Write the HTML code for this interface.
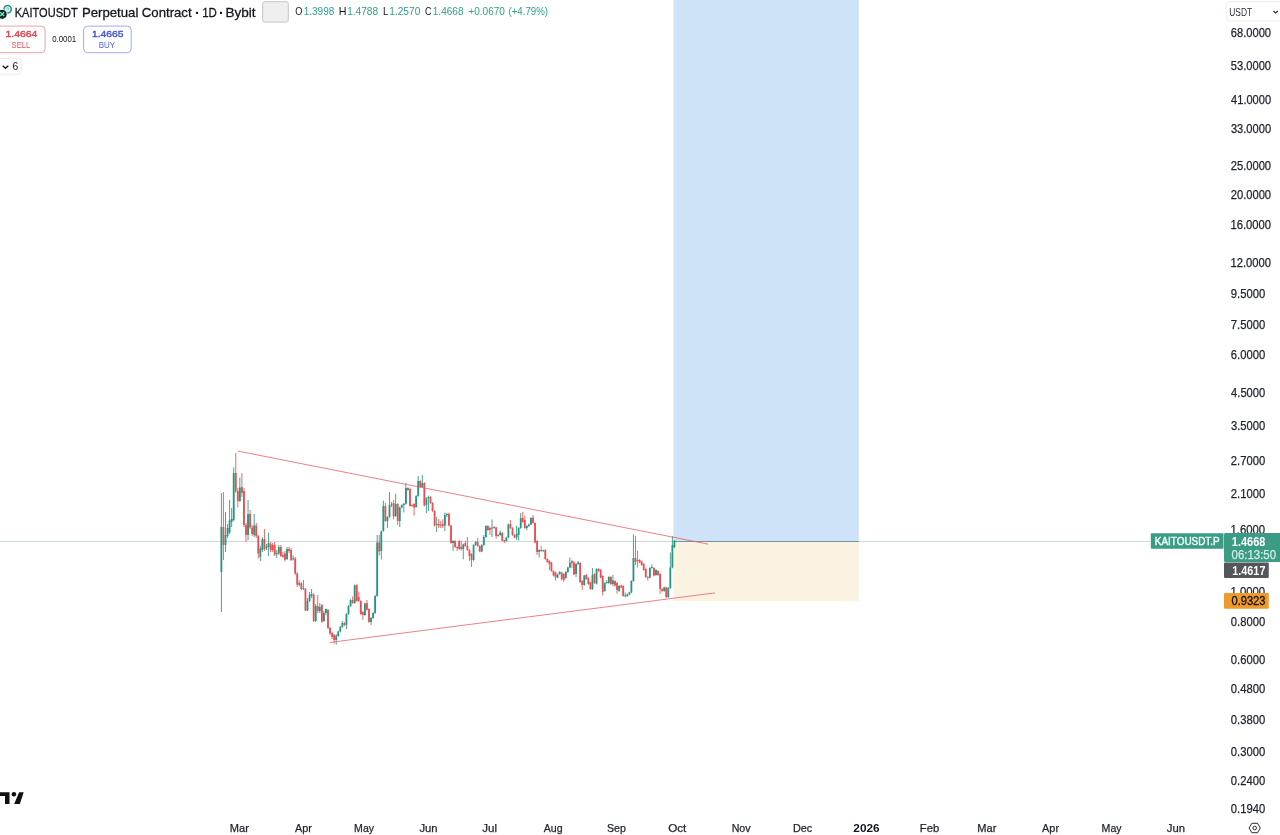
<!DOCTYPE html>
<html><head><meta charset="utf-8"><title>KAITOUSDT Perpetual Contract</title>
<style>
html,body{margin:0;padding:0;background:#fff;}
body{width:1280px;height:835px;position:relative;overflow:hidden;}
svg{position:absolute;left:0;top:0;display:block;font-family:"Liberation Sans",sans-serif;}
</style></head><body>
<svg width="1280" height="835" viewBox="0 0 1280 835">
<rect x="673.4" y="0" width="185.4" height="541.2" fill="#cfe3f8"/>
<rect x="673.4" y="541.2" width="185.4" height="60" fill="#fbf3e2"/>
<line x1="0" y1="541.4" x2="1150" y2="541.4" stroke="#c9d9d5" stroke-width="1"/>
<line x1="673.4" y1="541.5" x2="858.8" y2="541.5" stroke="#7593a6" stroke-width="1.2"/>
<path d="M223.45 492.0V560.0M235.75 453.0V493.0M237.80 488.0V507.5M241.90 473.0V497.0M243.95 488.0V527.0M246.00 523.0V542.0M250.10 510.0V529.0M252.15 525.0V536.0M256.25 523.0V538.0M258.30 535.0V558.5M264.45 529.0V551.0M270.60 542.0V552.0M272.65 543.0V552.0M274.70 542.0V556.0M280.85 545.0V557.0M282.90 552.0V558.0M284.95 551.0V561.6M289.05 547.0V553.0M291.10 548.0V561.0M295.20 557.0V575.0M297.25 572.0V587.0M301.35 582.0V590.0M305.45 588.0V611.0M313.65 593.0V622.0M317.75 595.0V613.0M321.85 604.0V623.0M328.00 609.0V629.0M330.05 627.0V635.0M332.10 632.0V639.0M334.15 634.0V643.5M344.40 622.0V626.0M352.60 596.6V603.8M356.70 584.2V601.8M358.75 591.6V601.8M360.80 600.2V614.8M362.85 611.2V619.8M366.95 600.0V610.5M369.00 608.2V622.8M379.25 535.0V555.6M385.40 503.0V521.8M393.60 500.0V519.4M397.70 503.2V525.0M407.95 487.2V490.8M410.00 488.2V506.8M412.05 504.2V506.8M414.10 503.2V515.6M420.25 480.2V487.8M424.35 482.2V506.4M430.50 496.2V503.8M432.55 502.2V511.8M434.60 510.2V526.4M438.70 519.0V528.0M440.75 521.0V528.0M442.80 519.4V528.0M448.95 512.5V526.4M451.00 524.8V543.8M455.10 540.2V547.8M457.15 546.2V551.0M459.20 540.0V549.8M461.25 540.6V550.6M465.35 541.0V546.8M467.40 537.0V550.8M469.45 549.2V561.0M471.50 553.2V567.0M477.65 538.0V546.8M479.70 545.2V552.3M487.90 525.2V530.8M489.95 527.2V535.0M494.05 526.2V528.8M496.10 526.7V538.8M502.25 532.2V541.4M504.30 539.8V543.0M510.45 520.0V528.8M512.50 527.2V535.8M514.55 534.2V538.3M522.75 512.0V522.8M524.80 515.6V528.8M533.00 515.0V523.8M535.05 522.2V543.3M537.10 540.2V555.0M541.20 546.0V551.8M545.30 549.2V559.8M547.35 558.2V562.8M549.40 560.2V570.0M551.45 561.9V571.8M553.50 570.2V576.4M555.55 571.7V580.6M561.70 571.7V580.6M563.75 573.2V582.0M571.95 560.2V568.0M574.00 561.0V575.2M580.15 562.2V582.8M582.20 580.2V590.0M586.30 573.8V579.8M588.35 577.2V584.8M590.40 581.7V589.8M594.50 573.2V583.8M598.60 568.2V571.8M600.65 569.2V578.3M602.70 575.2V595.6M610.90 576.2V584.8M615.00 580.2V586.4M617.05 582.2V593.8M621.15 584.8V588.3M623.20 585.2V596.8M635.50 536.0V565.0M637.55 550.6V567.5M639.60 559.2V563.3M641.65 560.7V565.8M643.70 563.2V570.8M645.75 568.2V577.8M647.80 576.2V580.6M653.95 567.2V576.4M658.05 570.2V575.8M660.10 573.2V593.8M662.15 588.2V591.8M666.25 586.7V598.0" stroke="#e94f52" stroke-width="0.85" fill="none"/>
<path d="M221.40 493.0V612.0M225.50 512.0V552.0M227.55 524.0V538.0M229.60 500.0V534.0M231.65 508.0V527.0M233.70 467.5V521.0M239.85 477.5V502.0M248.05 500.0V540.0M254.20 514.0V537.0M260.35 546.0V561.0M262.40 537.0V552.0M266.50 544.0V550.0M268.55 532.5V556.0M276.75 550.0V558.0M278.80 545.0V555.0M287.00 547.0V560.0M293.15 555.4V560.4M299.30 580.4V586.0M303.40 580.0V590.0M307.50 598.0V611.0M309.55 592.0V602.0M311.60 589.0V598.0M315.70 604.0V622.0M319.80 603.0V613.0M323.90 611.0V622.0M325.95 608.5V615.0M336.20 634.0V644.8M338.25 630.8V636.8M340.30 626.2V632.4M342.35 621.0V627.8M346.45 613.2V629.0M348.50 605.2V614.8M350.55 599.2V606.8M354.65 584.5V603.8M364.90 602.7V615.8M371.05 617.2V625.0M373.10 612.2V618.8M375.15 595.2V613.8M377.20 535.0V596.8M381.30 530.7V559.4M383.35 500.6V531.8M387.45 516.2V528.0M389.50 492.0V517.8M391.55 502.0V507.0M395.65 493.8V516.8M399.75 506.7V527.0M401.80 504.2V508.3M403.85 502.9V512.5M405.90 483.0V504.6M416.15 495.2V507.8M418.20 476.0V496.8M422.30 475.0V487.8M426.40 497.2V513.0M428.45 495.6V511.0M436.65 517.0V532.0M444.85 512.5V531.0M446.90 513.0V517.0M453.05 540.2V551.0M463.30 543.6V559.4M473.55 544.2V560.8M475.60 541.2V545.8M481.75 544.2V552.3M483.80 535.0V545.8M485.85 525.2V537.8M492.00 519.4V537.0M498.15 534.2V536.8M500.20 530.6V535.8M506.35 536.7V541.8M508.40 523.6V538.3M516.60 525.6V540.0M518.65 527.2V540.6M520.70 513.0V528.8M526.85 525.2V530.0M528.90 523.6V526.8M530.95 517.2V525.2M539.15 549.2V557.5M543.25 549.7V551.8M557.60 573.6V578.3M559.65 571.2V574.8M565.80 571.1V578.8M567.85 566.7V572.8M569.90 557.5V568.3M576.05 563.2V577.0M578.10 561.0V564.8M584.25 574.8V585.8M592.45 568.0V589.8M596.55 568.2V584.5M604.75 582.2V591.8M606.80 580.0V583.8M608.85 576.2V583.8M612.95 575.0V586.0M619.10 585.2V591.8M625.25 592.5V597.3M627.30 593.6V596.8M629.35 591.7V595.2M631.40 580.2V593.3M633.45 534.4V581.8M649.85 567.2V578.3M651.90 564.4V568.8M656.00 569.2V575.8M664.20 586.7V591.8M668.30 587.2V597.8M670.35 552.5V588.8M672.40 536.0V568.3M674.45 540.0V548.3" stroke="#26967f" stroke-width="0.85" fill="none"/>
<path d="M223.45 527.0V545.0M235.75 473.0V491.0M237.80 491.0V501.0M241.90 487.0V493.0M243.95 491.0V525.0M246.00 525.0V535.0M250.10 514.0V527.5M252.15 527.5V534.0M256.25 525.6V536.0M258.30 536.0V553.5M264.45 539.0V549.0M270.60 544.0V550.0M272.65 545.0V550.0M274.70 545.0V554.8M280.85 547.0V556.0M282.90 555.0V556.6M284.95 553.5V559.8M289.05 549.0V551.0M291.10 550.0V560.0M295.20 558.5V573.5M297.25 573.5V584.8M301.35 583.5V589.0M305.45 589.0V610.4M313.65 594.8V621.0M317.75 606.0V611.0M321.85 605.0V621.6M328.00 610.0V628.0M330.05 628.0V633.5M332.10 633.0V637.0M334.15 635.0V640.0M344.40 623.0V625.0M352.60 600.0V603.0M356.70 585.0V601.0M358.75 597.0V601.0M360.80 601.0V614.0M362.85 612.0V615.0M366.95 603.0V609.8M369.00 609.0V622.0M379.25 542.5V551.5M385.40 506.0V521.0M393.60 503.0V516.5M397.70 504.0V521.0M407.95 488.0V490.0M410.00 489.0V506.0M412.05 505.0V506.0M414.10 504.0V507.5M420.25 481.0V487.0M424.35 483.0V505.6M430.50 497.0V503.0M432.55 503.0V511.0M434.60 511.0V525.6M438.70 524.0V525.6M440.75 524.6V525.6M442.80 524.0V526.0M448.95 514.0V525.6M451.00 525.6V543.0M455.10 541.0V547.0M457.15 547.0V548.0M459.20 541.0V549.0M461.25 547.0V549.0M465.35 543.0V546.0M467.40 546.0V550.0M469.45 550.0V556.0M471.50 554.0V560.0M477.65 542.0V546.0M479.70 546.0V551.5M487.90 526.0V530.0M489.95 528.0V530.0M494.05 527.0V528.0M496.10 527.5V536.0M502.25 533.0V540.6M504.30 540.3V541.3M510.45 524.0V528.0M512.50 528.0V535.0M514.55 535.0V537.5M522.75 518.0V522.0M524.80 520.0V528.0M533.00 517.5V523.0M535.05 523.0V542.5M537.10 541.0V552.0M541.20 550.0V551.0M545.30 550.0V559.0M547.35 559.0V562.0M549.40 561.0V564.0M551.45 562.5V571.0M553.50 571.0V575.6M555.55 572.5V577.5M561.70 572.5V579.0M563.75 574.0V580.0M571.95 561.0V563.0M574.00 562.5V574.4M580.15 563.0V582.0M582.20 581.0V585.0M586.30 575.0V579.0M588.35 578.0V584.0M590.40 582.5V589.0M594.50 574.0V583.0M598.60 569.0V571.0M600.65 570.0V577.5M602.70 576.0V592.0M610.90 577.0V584.0M615.00 581.0V585.6M617.05 583.0V590.0M621.15 585.6V587.5M623.20 586.0V596.0M635.50 558.0V562.0M637.55 560.0V561.0M639.60 560.0V562.5M641.65 561.5V565.0M643.70 564.0V570.0M645.75 569.0V577.0M647.80 577.0V578.0M653.95 568.0V575.6M658.05 571.0V575.0M660.10 574.0V589.0M662.15 589.0V591.0M666.25 587.5V597.0" stroke="#e94f52" stroke-width="1.8" fill="none"/>
<path d="M221.40 527.0V572.0M225.50 535.0V545.0M227.55 528.0V536.0M229.60 520.6V532.5M231.65 519.0V522.0M233.70 473.0V520.0M239.85 487.5V501.0M248.05 514.0V535.0M254.20 525.6V535.0M260.35 548.5V557.0M262.40 539.0V550.0M266.50 546.5V548.0M268.55 543.0V547.0M276.75 553.0V554.0M278.80 547.0V553.5M287.00 549.0V559.0M293.15 558.2V559.2M299.30 583.0V584.8M303.40 588.0V589.0M307.50 601.0V610.4M309.55 594.8V601.0M311.60 594.0V596.0M315.70 606.0V621.0M319.80 607.0V611.0M323.90 613.0V621.0M325.95 609.0V613.0M336.20 636.0V640.0M338.25 631.6V636.0M340.30 627.0V631.6M342.35 623.0V627.0M346.45 614.0V625.0M348.50 606.0V614.0M350.55 600.0V606.0M354.65 585.6V603.0M364.90 603.5V615.0M371.05 618.0V622.0M373.10 613.0V618.0M375.15 596.0V613.0M377.20 542.5V596.0M381.30 531.5V551.0M383.35 506.0V531.0M387.45 517.0V521.0M389.50 505.0V517.0M391.55 504.2V505.2M395.65 504.0V516.0M399.75 507.5V521.0M401.80 505.0V507.5M403.85 503.8V505.0M405.90 488.0V503.8M416.15 496.0V507.0M418.20 481.0V496.0M422.30 483.0V487.0M426.40 498.0V505.0M428.45 497.0V498.0M436.65 524.0V525.0M444.85 515.0V525.6M446.90 514.0V515.0M453.05 541.0V543.0M463.30 544.4V549.0M473.55 545.0V560.0M475.60 542.0V545.0M481.75 545.0V551.5M483.80 537.0V545.0M485.85 526.0V537.0M492.00 527.6V528.6M498.15 535.0V536.0M500.20 532.5V535.0M506.35 537.5V541.0M508.40 524.4V537.5M516.60 534.0V537.5M518.65 528.0V535.0M520.70 518.0V528.0M526.85 526.0V528.0M528.90 524.4V526.0M530.95 518.0V524.4M539.15 550.0V552.0M543.25 550.2V551.2M557.60 574.4V577.5M559.65 572.0V574.0M565.80 571.9V578.0M567.85 567.5V572.0M569.90 562.5V567.5M576.05 564.0V574.0M578.10 562.5V564.0M584.25 575.6V585.0M592.45 575.0V589.0M596.55 569.0V583.8M604.75 583.0V591.0M606.80 582.0V583.0M608.85 577.0V583.0M612.95 580.6V584.0M619.10 586.0V591.0M625.25 595.5V596.5M627.30 594.4V596.0M629.35 592.5V594.4M631.40 581.0V592.5M633.45 558.0V581.0M649.85 568.0V577.5M651.90 567.0V568.0M656.00 570.0V575.0M664.20 587.5V591.0M668.30 588.0V597.0M670.35 567.5V588.0M672.40 545.0V567.5M674.45 541.1V547.3" stroke="#26967f" stroke-width="1.8" fill="none"/>
<line x1="238" y1="451.1" x2="708" y2="544.1" stroke="#e6606d" stroke-width="0.8"/>
<line x1="329.5" y1="642.5" x2="715" y2="592.9" stroke="#e6606d" stroke-width="0.8"/>
<!-- symbol logo -->
<circle cx="7.6" cy="9.2" r="3.7" fill="#c9f3ed" stroke="#2f9283" stroke-width="1.6"/>
<path d="M6.4 8.4 Q7.6 7 8.8 8.4 Q8.4 9.6 7.5 10.4" stroke="#6fb9ad" stroke-width="0.8" fill="none"/>
<circle cx="2.2" cy="14.3" r="5" fill="#0b2a2a" stroke="#fff" stroke-width="0.9"/>
<path d="M0.2 12.3 L4.2 16 M4.2 12.3 L0.2 16" stroke="#7fe3cb" stroke-width="1.3" fill="none"/>
<!-- box -->
<rect x="262.7" y="1.7" width="25.6" height="20.4" rx="2" fill="#efeff0" stroke="#c6c6c9" stroke-width="1"/>
<!-- buttons -->
<rect x="-6" y="26.1" width="51.1" height="26.6" rx="4" fill="#fff" stroke="#f0a3a9" stroke-width="1"/>
<rect x="83.6" y="26.1" width="47.6" height="26.6" rx="4" fill="#fff" stroke="#a3abf0" stroke-width="1"/>
<rect x="-6" y="58.4" width="27.2" height="15.8" rx="2.5" fill="#fff" stroke="#e9e9ea" stroke-width="1"/>
<path d="M2.7 65.7 L5.5 68.3 L8.3 65.7" stroke="#131722" stroke-width="1.3" fill="none"/>
<!-- usdt -->
<rect x="1226.5" y="1.5" width="60" height="19.5" rx="3" fill="#fff" stroke="#efeff0" stroke-width="1"/>
<path d="M1273.4 11 L1275.6 12.9 L1277.8 11" stroke="#2a2e39" stroke-width="1.2" fill="none"/>
<text x="1230.74" y="37.27" font-size="12" fill="#1e222d" textLength="40.35" lengthAdjust="spacingAndGlyphs" stroke="#1e222d" stroke-width="0.25">68.0000</text>
<text x="1230.85" y="70.27" font-size="12" fill="#1e222d" textLength="40.23" lengthAdjust="spacingAndGlyphs" stroke="#1e222d" stroke-width="0.25">53.0000</text>
<text x="1231.08" y="104.27" font-size="12" fill="#1e222d" textLength="40.01" lengthAdjust="spacingAndGlyphs" stroke="#1e222d" stroke-width="0.25">41.0000</text>
<text x="1230.91" y="133.02" font-size="12" fill="#1e222d" textLength="40.18" lengthAdjust="spacingAndGlyphs" stroke="#1e222d" stroke-width="0.25">33.0000</text>
<text x="1230.74" y="169.79" font-size="12" fill="#1e222d" textLength="40.35" lengthAdjust="spacingAndGlyphs" stroke="#1e222d" stroke-width="0.25">25.0000</text>
<text x="1230.74" y="199.35" font-size="12" fill="#1e222d" textLength="40.35" lengthAdjust="spacingAndGlyphs" stroke="#1e222d" stroke-width="0.25">20.0000</text>
<text x="1230.46" y="228.90" font-size="12" fill="#1e222d" textLength="40.63" lengthAdjust="spacingAndGlyphs" stroke="#1e222d" stroke-width="0.25">16.0000</text>
<text x="1230.46" y="267.00" font-size="12" fill="#1e222d" textLength="40.63" lengthAdjust="spacingAndGlyphs" stroke="#1e222d" stroke-width="0.25">12.0000</text>
<text x="1230.79" y="297.94" font-size="12" fill="#1e222d" textLength="34.38" lengthAdjust="spacingAndGlyphs" stroke="#1e222d" stroke-width="0.25">9.5000</text>
<text x="1230.74" y="329.25" font-size="12" fill="#1e222d" textLength="34.44" lengthAdjust="spacingAndGlyphs" stroke="#1e222d" stroke-width="0.25">7.5000</text>
<text x="1230.74" y="358.80" font-size="12" fill="#1e222d" textLength="34.44" lengthAdjust="spacingAndGlyphs" stroke="#1e222d" stroke-width="0.25">6.0000</text>
<text x="1231.08" y="396.90" font-size="12" fill="#1e222d" textLength="34.10" lengthAdjust="spacingAndGlyphs" stroke="#1e222d" stroke-width="0.25">4.5000</text>
<text x="1230.91" y="430.18" font-size="12" fill="#1e222d" textLength="34.27" lengthAdjust="spacingAndGlyphs" stroke="#1e222d" stroke-width="0.25">3.5000</text>
<text x="1230.74" y="464.55" font-size="12" fill="#1e222d" textLength="34.44" lengthAdjust="spacingAndGlyphs" stroke="#1e222d" stroke-width="0.25">2.7000</text>
<text x="1230.74" y="497.84" font-size="12" fill="#1e222d" textLength="34.44" lengthAdjust="spacingAndGlyphs" stroke="#1e222d" stroke-width="0.25">2.1000</text>
<text x="1230.45" y="533.85" font-size="12" fill="#1e222d" textLength="34.73" lengthAdjust="spacingAndGlyphs" stroke="#1e222d" stroke-width="0.25">1.6000</text>
<text x="1230.45" y="596.10" font-size="12" fill="#1e222d" textLength="34.73" lengthAdjust="spacingAndGlyphs" stroke="#1e222d" stroke-width="0.25">1.0000</text>
<text x="1230.85" y="625.65" font-size="12" fill="#1e222d" textLength="34.33" lengthAdjust="spacingAndGlyphs" stroke="#1e222d" stroke-width="0.25">0.8000</text>
<text x="1230.85" y="663.75" font-size="12" fill="#1e222d" textLength="34.33" lengthAdjust="spacingAndGlyphs" stroke="#1e222d" stroke-width="0.25">0.6000</text>
<text x="1230.85" y="693.31" font-size="12" fill="#1e222d" textLength="34.33" lengthAdjust="spacingAndGlyphs" stroke="#1e222d" stroke-width="0.25">0.4800</text>
<text x="1230.85" y="724.25" font-size="12" fill="#1e222d" textLength="34.33" lengthAdjust="spacingAndGlyphs" stroke="#1e222d" stroke-width="0.25">0.3800</text>
<text x="1230.85" y="755.55" font-size="12" fill="#1e222d" textLength="34.33" lengthAdjust="spacingAndGlyphs" stroke="#1e222d" stroke-width="0.25">0.3000</text>
<text x="1230.85" y="785.11" font-size="12" fill="#1e222d" textLength="34.33" lengthAdjust="spacingAndGlyphs" stroke="#1e222d" stroke-width="0.25">0.2400</text>
<text x="1230.85" y="813.29" font-size="12" fill="#1e222d" textLength="34.33" lengthAdjust="spacingAndGlyphs" stroke="#1e222d" stroke-width="0.25">0.1940</text>
<!-- right labels -->
<rect x="1150.8" y="533.2" width="72.7" height="15.6" rx="1" fill="#3c9b85"/>
<path d="M1225.5 533.1H1281V561.9H1225.5Q1224 561.9 1224 560.4V534.6Q1224 533.1 1225.5 533.1Z" fill="#3c9b85"/>
<rect x="1224" y="562.6" width="44.75" height="15.3" rx="1" fill="#55565a"/>
<rect x="1224" y="593.1" width="44.75" height="15.7" rx="1" fill="#f19a2c"/>
<!-- TV logo -->
<path d="M0 792.2H9.5V803.9H5V796H0Z" fill="#111"/>
<circle cx="13.9" cy="794.2" r="2.3" fill="#111"/>
<path d="M19.1 792.2H23.7L19.8 803.9H14.2Z" fill="#111"/>
<!-- settings icon -->
<path d="M1251.9 823.3 L1257.5 823.3 L1260.3 828 L1257.5 832.7 L1251.9 832.7 L1249.1 828 Z" fill="none" stroke="#2a2e39" stroke-width="1" stroke-linejoin="round"/>
<circle cx="1254.7" cy="828" r="1.8" fill="none" stroke="#2a2e39" stroke-width="1"/>
<text x="229.76" y="831.50" font-size="11" fill="#1e222d" textLength="19.12" lengthAdjust="spacingAndGlyphs" stroke="#1e222d" stroke-width="0.25">Mar</text>
<text x="295.00" y="831.50" font-size="11" fill="#1e222d" textLength="16.92" lengthAdjust="spacingAndGlyphs" stroke="#1e222d" stroke-width="0.25">Apr</text>
<text x="354.11" y="831.50" font-size="11" fill="#1e222d" textLength="19.94" lengthAdjust="spacingAndGlyphs" stroke="#1e222d" stroke-width="0.25">May</text>
<text x="419.43" y="831.50" font-size="11" fill="#1e222d" textLength="18.17" lengthAdjust="spacingAndGlyphs" stroke="#1e222d" stroke-width="0.25">Jun</text>
<text x="482.35" y="831.50" font-size="11" fill="#1e222d" textLength="14.71" lengthAdjust="spacingAndGlyphs" stroke="#1e222d" stroke-width="0.25">Jul</text>
<text x="543.77" y="831.50" font-size="11" fill="#1e222d" textLength="18.88" lengthAdjust="spacingAndGlyphs" stroke="#1e222d" stroke-width="0.25">Aug</text>
<text x="607.02" y="831.50" font-size="11" fill="#1e222d" textLength="18.90" lengthAdjust="spacingAndGlyphs" stroke="#1e222d" stroke-width="0.25">Sep</text>
<text x="668.23" y="831.50" font-size="11" fill="#1e222d" textLength="18.09" lengthAdjust="spacingAndGlyphs" stroke="#1e222d" stroke-width="0.25">Oct</text>
<text x="731.65" y="831.50" font-size="11" fill="#1e222d" textLength="18.89" lengthAdjust="spacingAndGlyphs" stroke="#1e222d" stroke-width="0.25">Nov</text>
<text x="792.90" y="831.50" font-size="11" fill="#1e222d" textLength="19.38" lengthAdjust="spacingAndGlyphs" stroke="#1e222d" stroke-width="0.25">Dec</text>
<text x="853.34" y="831.50" font-size="11" fill="#131722" font-weight="bold" textLength="26.32" lengthAdjust="spacingAndGlyphs">2026</text>
<text x="919.85" y="831.50" font-size="11" fill="#1e222d" textLength="19.39" lengthAdjust="spacingAndGlyphs" stroke="#1e222d" stroke-width="0.25">Feb</text>
<text x="977.31" y="831.50" font-size="11" fill="#1e222d" textLength="19.12" lengthAdjust="spacingAndGlyphs" stroke="#1e222d" stroke-width="0.25">Mar</text>
<text x="1042.10" y="831.50" font-size="11" fill="#1e222d" textLength="16.92" lengthAdjust="spacingAndGlyphs" stroke="#1e222d" stroke-width="0.25">Apr</text>
<text x="1101.61" y="831.50" font-size="11" fill="#1e222d" textLength="19.94" lengthAdjust="spacingAndGlyphs" stroke="#1e222d" stroke-width="0.25">May</text>
<text x="1166.88" y="831.50" font-size="11" fill="#1e222d" textLength="18.17" lengthAdjust="spacingAndGlyphs" stroke="#1e222d" stroke-width="0.25">Jun</text>
<text x="14.72" y="16.90" font-size="13.3" fill="#131722" textLength="63.00" lengthAdjust="spacingAndGlyphs" stroke="#131722" stroke-width="0.3">KAITOUSDT</text>
<text x="81.95" y="16.90" font-size="13.3" fill="#131722" textLength="56.42" lengthAdjust="spacingAndGlyphs" stroke="#131722" stroke-width="0.3">Perpetual</text>
<text x="141.84" y="16.90" font-size="13.3" fill="#131722" textLength="49.78" lengthAdjust="spacingAndGlyphs" stroke="#131722" stroke-width="0.3">Contract</text>
<text x="202.14" y="16.90" font-size="13.3" fill="#131722" textLength="14.67" lengthAdjust="spacingAndGlyphs" stroke="#131722" stroke-width="0.3">1D</text>
<text x="225.42" y="16.90" font-size="13.3" fill="#131722" textLength="30.09" lengthAdjust="spacingAndGlyphs" stroke="#131722" stroke-width="0.3">Bybit</text>
<text x="194.90" y="17.60" font-size="14" fill="#131722" font-weight="bold" textLength="4.76" lengthAdjust="spacingAndGlyphs">·</text>
<text x="218.90" y="17.60" font-size="14" fill="#131722" font-weight="bold" textLength="4.76" lengthAdjust="spacingAndGlyphs">·</text>
<text x="295.19" y="15.40" font-size="10.5" fill="#131722" textLength="7.15" lengthAdjust="spacingAndGlyphs">O</text>
<text x="303.65" y="15.40" font-size="10.5" fill="#2f9e8c" textLength="30.74" lengthAdjust="spacingAndGlyphs">1.3998</text>
<text x="338.74" y="15.40" font-size="10.5" fill="#131722" textLength="7.74" lengthAdjust="spacingAndGlyphs">H</text>
<text x="347.14" y="15.40" font-size="10.5" fill="#2f9e8c" textLength="31.00" lengthAdjust="spacingAndGlyphs">1.4788</text>
<text x="382.97" y="15.40" font-size="10.5" fill="#131722" textLength="5.44" lengthAdjust="spacingAndGlyphs">L</text>
<text x="389.24" y="15.40" font-size="10.5" fill="#2f9e8c" textLength="31.11" lengthAdjust="spacingAndGlyphs">1.2570</text>
<text x="424.95" y="15.40" font-size="10.5" fill="#131722" textLength="6.48" lengthAdjust="spacingAndGlyphs">C</text>
<text x="432.75" y="15.40" font-size="10.5" fill="#2f9e8c" textLength="30.74" lengthAdjust="spacingAndGlyphs">1.4668</text>
<text x="468.25" y="15.40" font-size="10.5" fill="#2f9e8c" textLength="36.73" lengthAdjust="spacingAndGlyphs">+0.0670</text>
<text x="508.42" y="15.40" font-size="10.5" fill="#2f9e8c" textLength="39.67" lengthAdjust="spacingAndGlyphs">(+4.79%)</text>
<text x="5.47" y="36.90" font-size="9.6" fill="#e0434f" textLength="31.88" lengthAdjust="spacingAndGlyphs" stroke="#e0434f" stroke-width="0.4">1.4664</text>
<text x="11.56" y="48.10" font-size="8.6" fill="#e0535e" textLength="18.68" lengthAdjust="spacingAndGlyphs">SELL</text>
<text x="52.19" y="41.90" font-size="8.2" fill="#131722" textLength="24.06" lengthAdjust="spacingAndGlyphs">0.0001</text>
<text x="91.98" y="36.90" font-size="9.6" fill="#4353d8" textLength="31.52" lengthAdjust="spacingAndGlyphs" stroke="#4353d8" stroke-width="0.4">1.4665</text>
<text x="98.76" y="48.10" font-size="8.6" fill="#5262dc" textLength="16.41" lengthAdjust="spacingAndGlyphs">BUY</text>
<text x="12.58" y="70.00" font-size="10" fill="#131722" textLength="5.74" lengthAdjust="spacingAndGlyphs">6</text>
<text x="1229.27" y="15.60" font-size="10.8" fill="#2a2e39" textLength="22.82" lengthAdjust="spacingAndGlyphs">USDT</text>
<text x="1154.81" y="545.00" font-size="10.6" fill="#e6fff8" textLength="64.93" lengthAdjust="spacingAndGlyphs" stroke="#e6fff8" stroke-width="0.45">KAITOUSDT.P</text>
<text x="1231.84" y="545.60" font-size="12" fill="#ffffff" font-weight="bold" textLength="33.47" lengthAdjust="spacingAndGlyphs">1.4668</text>
<text x="1231.54" y="558.60" font-size="12" fill="#cdeee6" textLength="44.49" lengthAdjust="spacingAndGlyphs" stroke="#cdeee6" stroke-width="0.25">06:13:50</text>
<text x="1232.25" y="574.80" font-size="12" fill="#ffffff" font-weight="bold" textLength="33.17" lengthAdjust="spacingAndGlyphs">1.4617</text>
<text x="1231.46" y="605.40" font-size="12" fill="#111111" textLength="33.97" lengthAdjust="spacingAndGlyphs" stroke="#111111" stroke-width="0.3">0.9323</text>
</svg>
</body></html>
